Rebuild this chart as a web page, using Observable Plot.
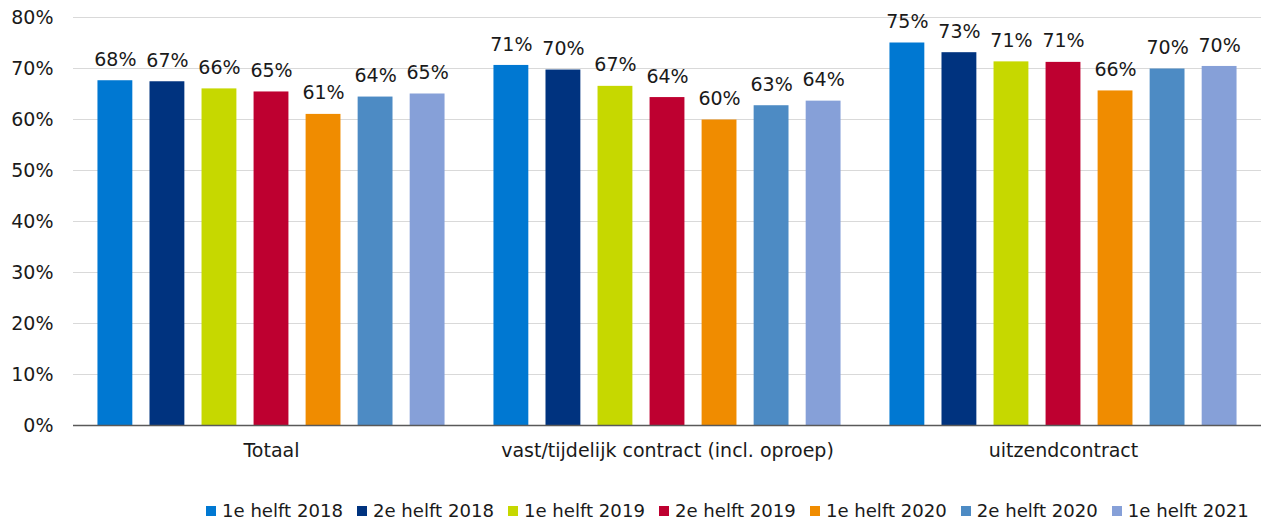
<!DOCTYPE html>
<html>
<head>
<meta charset="utf-8">
<script src="https://cdn.jsdelivr.net/npm/d3@7"></script>
<script src="https://cdn.jsdelivr.net/npm/@observablehq/plot@0.6"></script>
<style>
  html, body { margin: 0; padding: 0; background: #fff; }
  #wrap { position: relative; width: 1264px; height: 519px; }
  #legend { position: absolute; top: 501px; left: 206px; display: flex; font-family: "DejaVu Sans", sans-serif; font-size: 18.1px; line-height: 20px; color: #1a1a1a; white-space: nowrap; }
  .item { display: flex; align-items: center; margin-right: 14px; }
  .item:last-child { margin-right: 0; }
  .sw { width: 10px; height: 10px; margin-right: 6px; }
</style>
</head>
<body>
<div id="wrap"><div id="chart"></div><div id="legend"></div></div>
<script>
const groups = ["Totaal", "vast/tijdelijk contract (incl. oproep)", "uitzendcontract"];
const series = ["1e helft 2018", "2e helft 2018", "1e helft 2019", "2e helft 2019", "1e helft 2020", "2e helft 2020", "1e helft 2021"];
const totaal = [67.6, 67.4, 66.0, 65.4, 61.0, 64.4, 65.0];
const vast = [70.6, 69.7, 66.5, 64.3, 59.9, 62.7, 63.6];
const uitzend = [75.0, 73.1, 71.3, 71.2, 65.6, 69.9, 70.4];
const colors = ["#0078d2", "#00337f", "#c6d800", "#be0030", "#f08c00", "#4d8bc4", "#86a0d8"];
const yTicks = [0, 10, 20, 30, 40, 50, 60, 70, 80];

const valuesByGroup = [totaal, vast, uitzend];
const data = [];
groups.forEach((g, gi) => series.forEach((s, si) => data.push({group: g, series: s, value: valuesByGroup[gi][si]})));

const chart = Plot.plot({
  width: 1264,
  height: 470,
  marginLeft: 72,
  marginRight: 2,
  marginTop: 17,
  marginBottom: 45,
  style: {fontFamily: "DejaVu Sans, sans-serif", fontSize: "19px", color: "#1a1a1a", background: "white"},
  fx: {domain: groups, padding: 0, label: null, axis: "bottom", tickSize: 0, tickPadding: 18},
  x: {domain: series, axis: null, paddingInner: 0.33, paddingOuter: 0.47, round: false},
  y: {domain: [0, 80], ticks: yTicks, tickFormat: d => d + "%", tickSize: 0, tickPadding: 20, label: null},
  color: {domain: series, range: colors},
  marks: [
    Plot.ruleY(yTicks.filter(d => d > 0), {stroke: "#d9d9d9", strokeWidth: 1}),
    Plot.barY(data, {fx: "group", x: "series", y: "value", fill: "series"}),
    Plot.text(data, {fx: "group", x: "series", y: "value", text: d => Math.round(d.value) + "%", dy: -21, fontSize: 19, fill: "#1a1a1a"}),
    Plot.ruleY([0], {stroke: "#595959", strokeWidth: 1.5})
  ]
});
document.getElementById("chart").appendChild(chart);

const legend = document.getElementById("legend");
series.forEach((s, i) => {
  const item = document.createElement("div");
  item.className = "item";
  const sw = document.createElement("span");
  sw.className = "sw";
  sw.style.background = colors[i];
  const t = document.createElement("span");
  t.textContent = s;
  item.appendChild(sw);
  item.appendChild(t);
  legend.appendChild(item);
});
</script>
</body>
</html>
